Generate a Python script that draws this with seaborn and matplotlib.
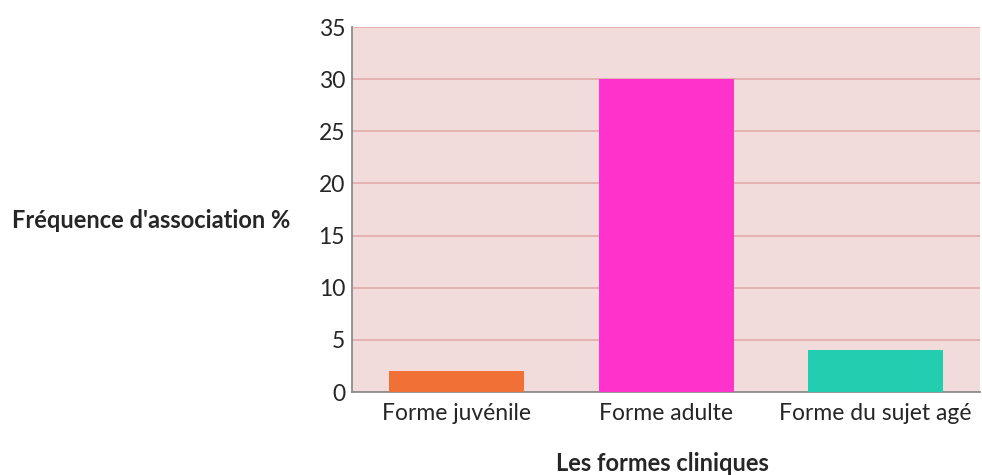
import matplotlib
matplotlib.use("Agg")
import matplotlib.pyplot as plt
import seaborn as sns
import pandas as pd

categories = ["Forme juvénile", "Forme adulte", "Forme du sujet agé"]
values = [2, 30, 4]
colors = ["#F07035", "#FF33CC", "#22CDB0"]
y_ticks = [0, 5, 10, 15, 20, 25, 30, 35]

sns.set_style("white")
plt.rcParams["font.family"] = ["Lato", "DejaVu Sans"]

df = pd.DataFrame({"forme": categories, "freq": values})

fig = plt.figure(figsize=(9.82, 4.75), dpi=100)
ax = fig.add_axes([0.3585, 0.1747, 0.6395, 0.7684])
ax.set_facecolor("#F2DCDB")

sns.barplot(data=df, x="forme", y="freq", hue="forme", palette=colors,
            width=0.645, saturation=1, legend=False, ax=ax, zorder=3,
            linewidth=0)

ax.set_ylim(0, 35)
ax.set_yticks(y_ticks)
ax.set_xlim(-0.5, 2.5)
ax.yaxis.grid(True, color="#E2AAAA", linewidth=1.2, zorder=0)
ax.set_axisbelow(True)
ax.tick_params(axis="both", length=0, labelsize=16.5, pad=5)
ax.tick_params(axis="x", pad=8)

for s in ["top", "right"]:
    ax.spines[s].set_visible(False)
for s in ["left", "bottom"]:
    ax.spines[s].set_color("#8C8C8C")
    ax.spines[s].set_linewidth(1.3)

ax.set_ylabel("Fréquence d'association %", rotation=0, fontsize=17,
              fontweight="bold", ha="center", va="center")
ax.yaxis.set_label_coords(-0.32, 0.47)
ax.set_xlabel("Les formes cliniques", fontsize=17, fontweight="bold",
              va="center")
ax.xaxis.set_label_coords(0.495, -0.195)

fig.savefig("out.png", dpi=100)
